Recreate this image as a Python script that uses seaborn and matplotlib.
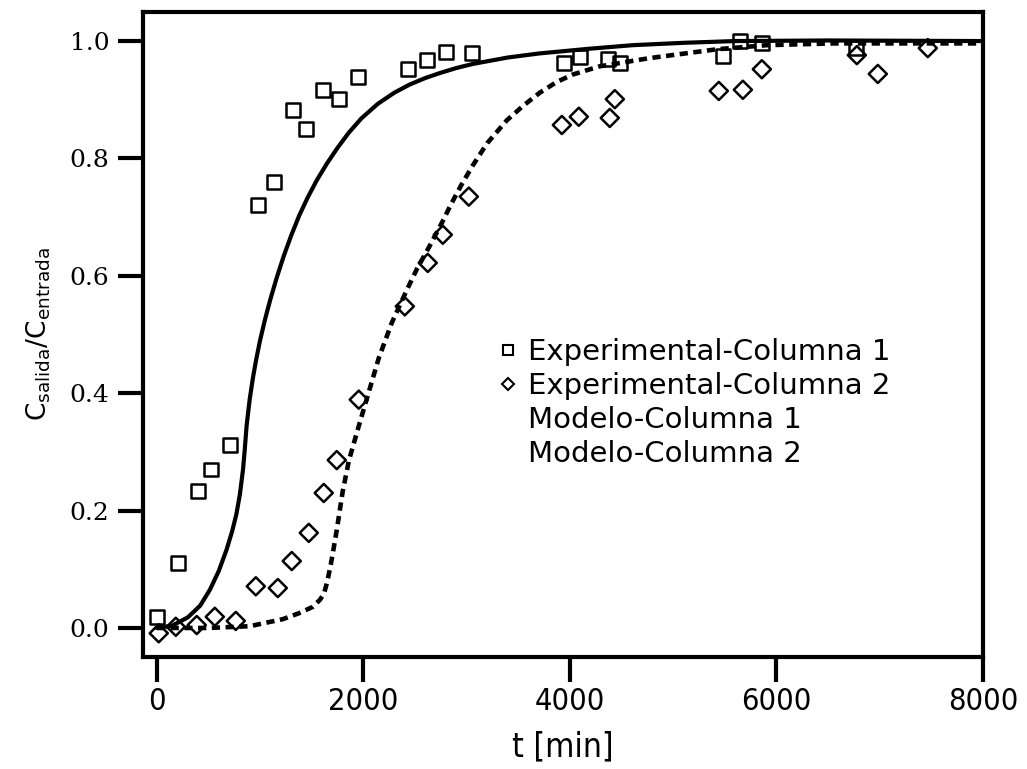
import pandas as pd
import matplotlib as mpl
import matplotlib.pyplot as plt
from matplotlib import font_manager
from matplotlib.lines import Line2D
import seaborn as sns

# datos experimentales, columna 1 (cuadrados)
T_COL1 = [0, 203, 397, 523, 707, 978, 1133, 1317, 1443, 1608, 1763, 1947, 2431, 2615,
          2799, 3051, 3941, 4096, 4368, 4484, 5482, 5646, 5860, 6770]
C_COL1 = [0.019, 0.11, 0.233, 0.27, 0.311, 0.72, 0.76, 0.883, 0.85, 0.917, 0.901, 0.939,
          0.952, 0.968, 0.981, 0.98, 0.963, 0.973, 0.969, 0.963, 0.974, 1.0, 0.997, 0.988]

# datos experimentales, columna 2 (rombos)
T_COL2 = [19, 184, 387, 562, 765, 959, 1172, 1307, 1472, 1617, 1743, 1956, 2402, 2624,
          2770, 3022, 3923, 4087, 4387, 4436, 5443, 5676, 5860, 6780, 6983, 7467]
C_COL2 = [-0.009, 0.002, 0.005, 0.019, 0.012, 0.071, 0.068, 0.114, 0.162, 0.23, 0.286, 0.389,
          0.548, 0.622, 0.67, 0.735, 0.857, 0.871, 0.869, 0.901, 0.915, 0.917, 0.952, 0.976,
          0.944, 0.988]

# curvas del modelo
T_MOD1 = [0, 150, 300, 420, 514, 600, 675, 730, 771, 805, 835, 850, 870, 900, 930, 960,
          1000, 1050, 1100, 1160, 1230, 1300, 1380, 1460, 1550, 1650, 1750, 1860, 1980,
          2140, 2300, 2450, 2600, 2750, 2900, 3060, 3400, 3709, 4193, 4610, 5100, 5600,
          6500, 8000]
C_MOD1 = [0.0, 0.004, 0.018, 0.038, 0.065, 0.097, 0.133, 0.165, 0.194, 0.228, 0.27, 0.30,
          0.345, 0.39, 0.425, 0.455, 0.49, 0.527, 0.56, 0.596, 0.634, 0.668, 0.703, 0.733,
          0.763, 0.792, 0.818, 0.844, 0.868, 0.893, 0.912, 0.926, 0.937, 0.946, 0.954,
          0.961, 0.972, 0.979, 0.987, 0.993, 0.997, 1.0, 1.001, 1.0]

T_MOD2 = [0, 500, 900, 1220, 1375, 1511, 1580, 1618, 1650, 1686, 1715, 1743, 1770, 1800,
          1860, 1956, 2053, 2150, 2276, 2411, 2520, 2640, 2760, 2850, 2950, 3060, 3200,
          3390, 3550, 3709, 3870, 4029, 4290, 4775, 5424, 5908, 6547, 8000]
C_MOD2 = [0.0, 0.0, 0.003, 0.015, 0.025, 0.036, 0.048, 0.058, 0.078, 0.109, 0.138, 0.167,
          0.198, 0.232, 0.285, 0.344, 0.402, 0.46, 0.52, 0.572, 0.612, 0.65, 0.69, 0.722,
          0.755, 0.788, 0.826, 0.865, 0.89, 0.912, 0.93, 0.943, 0.957, 0.971, 0.986, 0.993,
          0.996, 0.996]

LABELS = ['Experimental-Columna 1', 'Experimental-Columna 2',
          'Modelo-Columna 1', 'Modelo-Columna 2']

sns.set_style('ticks')
mpl.rcParams['font.family'] = ['DejaVu Sans']
mpl.rcParams['mathtext.fontset'] = 'dejavusans'
for key in ['text.color', 'axes.labelcolor', 'xtick.color', 'ytick.color', 'axes.edgecolor']:
    mpl.rcParams[key] = 'black'

# fuente estrecha para el eje x, si existe
condensed = [f for f in font_manager.fontManager.ttflist
             if f.name == 'DejaVu Sans' and 'condensed' in str(f.stretch)]
if condensed:
    XSTRETCH, XSIZE, XLSIZE = 'condensed', 22, 24
else:
    XSTRETCH, XSIZE, XLSIZE = 'normal', 19, 22

fig = plt.figure(figsize=(10.27, 7.69), dpi=100)
ax = fig.add_axes([0.139, 0.146, 0.818, 0.838])

sns.lineplot(x=T_MOD1, y=C_MOD1, color='black', linewidth=3, ax=ax)
sns.lineplot(x=T_MOD2, y=C_MOD2, color='black', linewidth=3.3, ax=ax,
             linestyle=(0, (1.8, 1.2)))
sns.scatterplot(x=T_COL1, y=C_COL1, marker='s', s=100, facecolor='none',
                edgecolor='black', linewidth=1.8, ax=ax, zorder=3)
sns.scatterplot(x=T_COL2, y=C_COL2, marker='D', s=85, facecolor='none',
                edgecolor='black', linewidth=1.8, ax=ax, zorder=3)

ax.set_xlim(-136, 8000)
ax.set_ylim(-0.049, 1.049)
ax.set_xticks([0, 2000, 4000, 6000, 8000])
ax.set_yticks([0.0, 0.2, 0.4, 0.6, 0.8, 1.0])
ax.set_yticklabels(['%.1f' % v for v in ax.get_yticks()], family='DejaVu Serif', fontsize=18)
ax.set_xticklabels(['0', '2000', '4000', '6000', '8000'], fontstretch=XSTRETCH, fontsize=XSIZE)

for sp in ax.spines.values():
    sp.set_linewidth(3)
    sp.set_visible(True)
ax.tick_params(axis='both', direction='out', length=18, width=3)
ax.tick_params(axis='y', pad=6)
ax.tick_params(axis='x', pad=4)

ax.set_xlabel('t [min]', fontstretch=XSTRETCH, fontsize=XLSIZE, labelpad=10)
ax.set_ylabel(r'C$_{\mathregular{salida}}$/C$_{\mathregular{entrada}}$', fontsize=19, labelpad=12)

handles = [
    Line2D([], [], linestyle='none', marker='s', markersize=7, markerfacecolor='none',
           markeredgecolor='black', markeredgewidth=1.5),
    Line2D([], [], linestyle='none', marker='D', markersize=6.5, markerfacecolor='none',
           markeredgecolor='black', markeredgewidth=1.5),
    Line2D([], [], linestyle='none'),
    Line2D([], [], linestyle='none'),
]
ax.legend(handles, LABELS, loc='upper left', bbox_to_anchor=(496 / 1027, 1 - 338 / 769),
          bbox_transform=fig.transFigure, frameon=False, fontsize=21, borderpad=0,
          borderaxespad=0, handlelength=0.8, handletextpad=0.3, labelspacing=0.2)

fig.savefig('out.png', dpi=100)
